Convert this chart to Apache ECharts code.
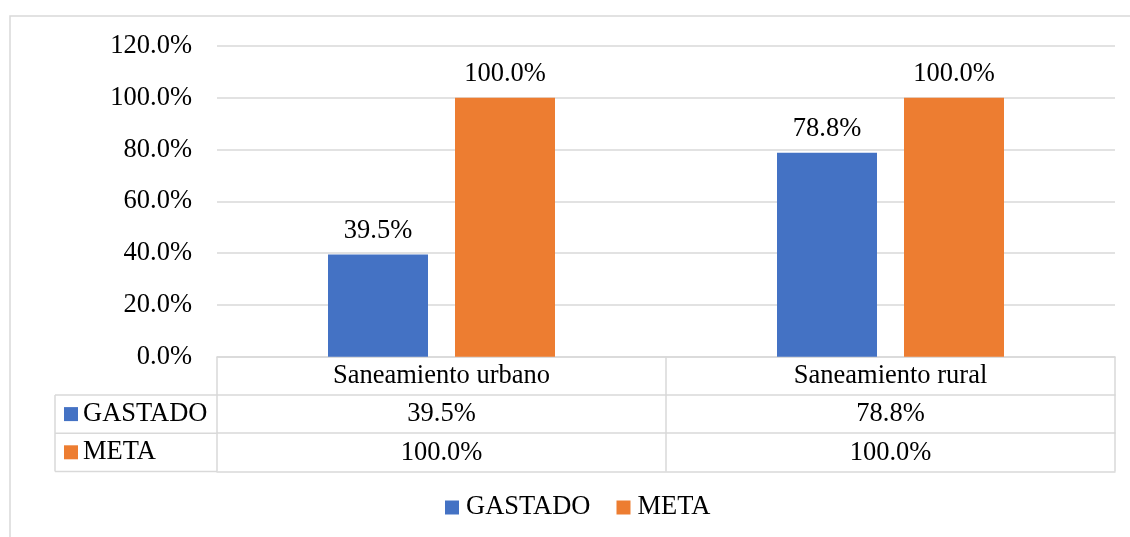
<!DOCTYPE html>
<html>
<head>
<meta charset="utf-8">
<script src="https://cdn.jsdelivr.net/npm/echarts@6/dist/echarts.min.js"></script>
<style>
    html, body { margin: 0; padding: 0; background: #fff; }
    #myChart { width: 1130px; height: 537px; }
</style>
</head>
<body>
<div id="myChart"></div>
<script>
// data
const categories = ['Saneamiento urbano', 'Saneamiento rural']
const seriesNames = ['GASTADO', 'META']
const gastado = [39.5, 78.8]
const meta = [100, 100]
const yTicks = [0, 20, 40, 60, 80, 100, 120]

const colors = ['#4472C4', '#ED7D31']
const font = "'Liberation Serif', 'Times New Roman', serif"
const fontSize = 26.5
const lineColor = '#d9d9d9'

// layout of plot + data table
const plotLeft = 217
const plotRight = 1115
const plotTop = 46
const plotBottom = 356.8
const rowH = 38.2
const tableLeft = 55

const pct = v => v.toFixed(1) + '%'
const rows = [gastado, meta]

let chart = echarts.init(document.getElementById('myChart'))

// x axes: 0 = category row, 1..2 = value rows, 3 = bottom line of table
const xAxes = [0, 1, 2, 3].map(i => ({
    type: 'category',
    position: 'bottom',
    offset: i * rowH,
    gridIndex: 0,
    data: categories,
    axisLine: { show: true, lineStyle: { color: lineColor, width: 1.5 } },
    axisTick: { show: i < 3, length: rowH, interval: 0, lineStyle: { color: lineColor, width: 1.5 } },
    axisLabel: {
        show: i < 3,
        interval: 0,
        margin: 6,
        color: '#000',
        fontFamily: font,
        fontSize: fontSize,
        formatter: (v, idx) => i === 0 ? v : pct(rows[i - 1][idx])
    },
    splitLine: { show: false }
}))

// left column of the data table (series names with colour keys)
const graphics = [
    {
        type: 'rect',
        shape: { x: 10, y: 16, width: 1200, height: 600 },
        style: { fill: 'none', stroke: lineColor, lineWidth: 1.5 },
        silent: true
    },
    {
        type: 'line',
        shape: { x1: tableLeft, y1: plotBottom + rowH, x2: tableLeft, y2: plotBottom + 3 * rowH },
        style: { stroke: lineColor, lineWidth: 1.5 }
    }
]
for (let r = 1; r <= 3; r++) {
    graphics.push({
        type: 'line',
        shape: { x1: tableLeft, y1: plotBottom + r * rowH, x2: plotLeft, y2: plotBottom + r * rowH },
        style: { stroke: lineColor, lineWidth: 1.5 }
    })
}
seriesNames.forEach((name, i) => {
    const cy = plotBottom + (i + 1.5) * rowH
    graphics.push({
        type: 'rect',
        shape: { x: 64, y: cy - 7, width: 14, height: 14 },
        style: { fill: colors[i] }
    })
    graphics.push({
        type: 'text',
        x: 83,
        y: cy,
        style: {
            text: name,
            fill: '#000',
            font: fontSize + 'px ' + font,
            verticalAlign: 'middle',
            align: 'left'
        }
    })
})

chart.setOption({
    animation: false,
    color: colors,
    textStyle: { fontFamily: font },
    grid: {
        left: plotLeft,
        right: 1130 - plotRight,
        top: plotTop,
        bottom: 537 - plotBottom,
        containLabel: false,
        outerBoundsMode: 'none'
    },
    legend: {
        data: seriesNames,
        left: 445,
        top: 494,
        padding: 0,
        icon: 'rect',
        itemWidth: 14,
        itemHeight: 14,
        itemGap: 26,
        textStyle: { color: '#000', fontFamily: font, fontSize: fontSize, padding: [0, 0, 0, 2] }
    },
    xAxis: xAxes,
    yAxis: {
        type: 'value',
        min: yTicks[0],
        max: yTicks[yTicks.length - 1],
        interval: yTicks[1] - yTicks[0],
        axisLine: { show: false },
        axisTick: { show: false },
        splitLine: { lineStyle: { color: lineColor, width: 1.5 } },
        axisLabel: {
            margin: 25,
            color: '#000',
            fontFamily: font,
            fontSize: fontSize,
            formatter: v => pct(v)
        }
    },
    graphic: graphics,
    series: [
        {
            name: seriesNames[0],
            type: 'bar',
            xAxisIndex: 0,
            barWidth: 100,
            barGap: '27%',
            data: gastado,
            label: {
                show: true,
                position: 'top',
                distance: 10,
                color: '#000',
                fontFamily: font,
                fontSize: fontSize,
                formatter: p => pct(p.value)
            }
        },
        {
            name: seriesNames[1],
            type: 'bar',
            xAxisIndex: 0,
            barWidth: 100,
            barGap: '27%',
            data: meta,
            label: {
                show: true,
                position: 'top',
                distance: 10,
                color: '#000',
                fontFamily: font,
                fontSize: fontSize,
                formatter: p => pct(p.value)
            }
        }
    ]
})
</script>
</body>
</html>
